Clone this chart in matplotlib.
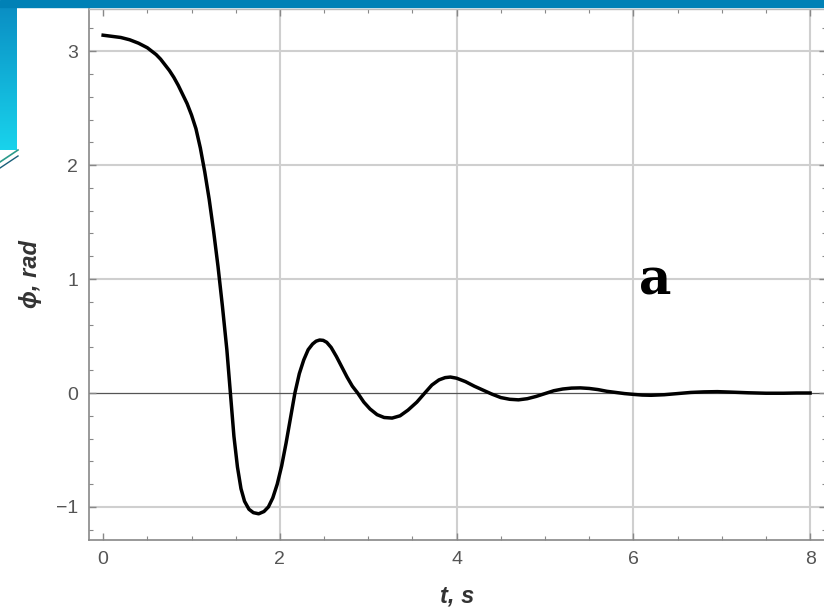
import matplotlib
matplotlib.use("Agg")
import matplotlib.pyplot as plt
import numpy as np
from matplotlib.ticker import MultipleLocator

# angle vs time
t = [0.00, 0.10, 0.20, 0.30, 0.40, 0.50, 0.55, 0.60, 0.65, 0.70,
     0.75, 0.80, 0.85, 0.90, 0.95, 1.00, 1.05, 1.10, 1.15, 1.20,
     1.25, 1.30, 1.35, 1.40, 1.44, 1.48, 1.52, 1.56, 1.60, 1.65,
     1.70, 1.76, 1.82, 1.87, 1.92, 1.97, 2.02, 2.07, 2.12, 2.17,
     2.22, 2.27, 2.32, 2.37, 2.41, 2.45, 2.49, 2.53, 2.58, 2.64,
     2.70, 2.76, 2.82, 2.88, 2.95, 3.02, 3.10, 3.18, 3.27, 3.36,
     3.45, 3.55, 3.64, 3.72, 3.80, 3.87, 3.93, 4.00, 4.10, 4.20,
     4.30, 4.40, 4.50, 4.60, 4.70, 4.80, 4.90, 5.00, 5.10, 5.20,
     5.30, 5.40, 5.50, 5.60, 5.70, 5.80, 5.90, 6.00, 6.10, 6.20,
     6.35, 6.50, 6.65, 6.80, 6.95, 7.10, 7.30, 7.50, 7.70, 7.85,
     8.00]
phi = [3.14, 3.13, 3.12, 3.10, 3.07, 3.03, 3.00, 2.97, 2.93, 2.88,
       2.83, 2.77, 2.70, 2.62, 2.54, 2.44, 2.32, 2.15, 1.94, 1.70,
       1.42, 1.11, 0.76, 0.38, 0.00, -0.38, -0.65, -0.84, -0.95, -1.02,
       -1.05, -1.06, -1.04, -1.00, -0.92, -0.80, -0.64, -0.44, -0.22, 0.00,
       0.17, 0.29, 0.38, 0.43, 0.455, 0.465, 0.462, 0.445, 0.40, 0.32,
       0.23, 0.14, 0.06, 0.00, -0.08, -0.14, -0.19, -0.215, -0.22, -0.20,
       -0.15, -0.08, 0.00, 0.07, 0.115, 0.135, 0.14, 0.13, 0.10, 0.06,
       0.025, -0.01, -0.04, -0.055, -0.06, -0.05, -0.03, -0.005, 0.02, 0.035,
       0.043, 0.045, 0.04, 0.03, 0.015, 0.005, -0.005, -0.012, -0.018, -0.02,
       -0.015, -0.005, 0.005, 0.01, 0.012, 0.008, 0.002, -0.002, -0.002, 0.0,
       0.0]

xticks = [0, 2, 4, 6, 8]
yticks = [-1, 0, 1, 2, 3]

fig = plt.figure(figsize=(8.24, 6.12), dpi=100)

# slide decoration: blue bar on top, cyan strip on the left
deco = fig.add_axes([0, 0, 1, 1], zorder=-5)
deco.set_xlim(0, 824)
deco.set_ylim(612, 0)
deco.axis("off")
grad = np.linspace(0, 1, 100).reshape(-1, 1)
cmap = matplotlib.colors.LinearSegmentedColormap.from_list("c", ["#0a8fc4", "#19d3ec"])
deco.imshow(grad, cmap=cmap, extent=[0, 17, 150, 7], aspect="auto")
deco.add_patch(plt.Rectangle((0, 0), 824, 7, color="#0081b6"))
deco.plot([0, 18], [162, 150], color="#2a9a8a", lw=1.2)
deco.plot([0, 18], [168, 156], color="#1a5f7a", lw=1.0)

ax = fig.add_axes([89 / 824, 1 - 540 / 612, (826 - 89) / 824, (540 - 9) / 612])
ax.set_xlim(-0.16, 8.18)
ax.set_ylim(-1.29, 3.37)

for x in xticks[1:]:
    ax.axvline(x, color="#cfcfcf", lw=1.5, zorder=0)
for y in yticks:
    if y != 0:
        ax.axhline(y, color="#cfcfcf", lw=1.5, zorder=0)
ax.axhline(0, color="#555555", lw=0.9, zorder=1)

ax.plot(t, phi, color="black", lw=2.5, zorder=3, solid_joinstyle="round")

ax.set_xticks(xticks)
ax.set_yticks(yticks)
ax.xaxis.set_minor_locator(MultipleLocator(0.5))
ax.yaxis.set_minor_locator(MultipleLocator(0.2))
ax.tick_params(which="both", direction="in", top=True, right=True, color="#888888")
ax.tick_params(which="major", length=5, width=1, labelsize=14, labelcolor="#555555", pad=8)
ax.tick_params(which="minor", length=3, width=0.8)
for lab in ax.get_xticklabels() + ax.get_yticklabels():
    lab.set_family(["Liberation Sans", "DejaVu Sans"])

for side in ["left", "bottom"]:
    ax.spines[side].set_color("#888888")
    ax.spines[side].set_linewidth(1.2)
for side in ["top", "right"]:
    ax.spines[side].set_color("#bbbbbb")
    ax.spines[side].set_linewidth(1.0)

lab_font = dict(family=["Liberation Sans", "DejaVu Sans"], weight="bold", style="italic",
                size=17, color="#333333")
ax.set_xlabel("t, s", labelpad=12, **lab_font)
ax.set_ylabel("ϕ, rad", labelpad=10, **lab_font)

fig.text(655 / 824, 1 - 281 / 612, "a", ha="center", va="center",
         family="DejaVu Serif", weight="bold", fontsize=36)

fig.savefig("out.png", dpi=100)
